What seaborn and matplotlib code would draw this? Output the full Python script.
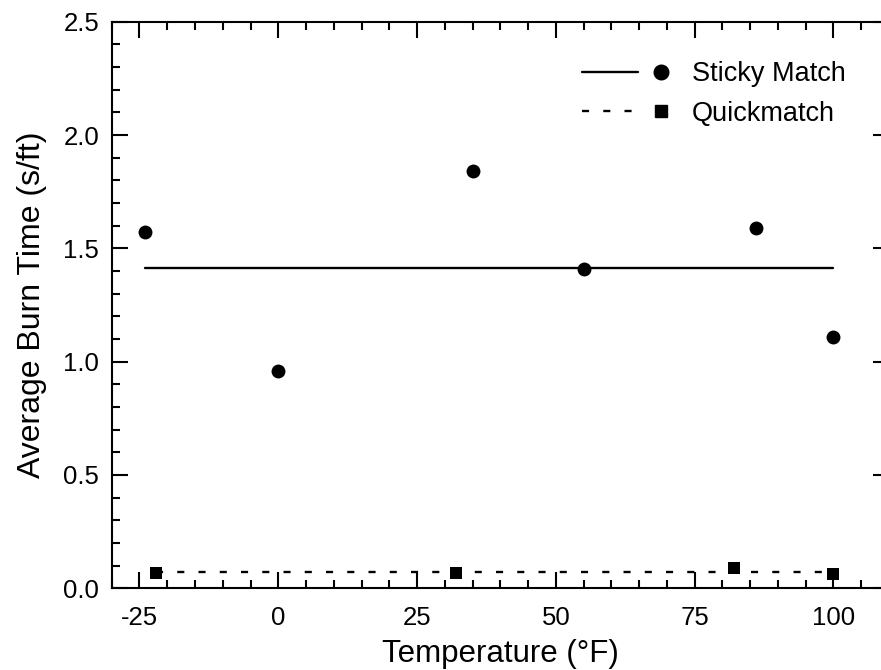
import numpy as np
import pandas as pd
import matplotlib
matplotlib.use("Agg")
import matplotlib.pyplot as plt
from matplotlib.lines import Line2D
from matplotlib.legend_handler import HandlerTuple
from matplotlib.ticker import MultipleLocator
import seaborn as sns

# data
sticky_temp = [-24, 0, 35, 55, 86, 100]
sticky_burn = [1.57, 0.96, 1.84, 1.41, 1.59, 1.11]
quick_temp = [-22, 32, 82, 100]
quick_burn = [0.066, 0.066, 0.088, 0.064]
series_names = ["Sticky Match", "Quickmatch"]

sns.set_style("ticks")
plt.rcParams["font.family"] = ["Liberation Sans", "DejaVu Sans"]
plt.rcParams["axes.unicode_minus"] = False
plt.rcParams["text.color"] = "black"
plt.rcParams["axes.labelcolor"] = "black"
plt.rcParams["xtick.color"] = "black"
plt.rcParams["ytick.color"] = "black"

sticky = pd.DataFrame({"temp": sticky_temp, "burn": sticky_burn})
quick = pd.DataFrame({"temp": quick_temp, "burn": quick_burn})

# average lines spanning the tested temperatures
sticky_avg = pd.DataFrame({"temp": [min(sticky_temp), max(sticky_temp)],
                           "burn": [np.mean(sticky_burn)] * 2})
quick_avg = pd.DataFrame({"temp": [min(quick_temp), max(quick_temp)],
                          "burn": [np.mean(quick_burn)] * 2})

fig = plt.figure(figsize=(8.81, 6.70), dpi=100)
ax = fig.add_axes([111.7 / 881, 81.7 / 670, 777.3 / 881, 566.6 / 670])

dash = (0, (3, 6))
sns.lineplot(data=sticky_avg, x="temp", y="burn", color="black", lw=1.7, ax=ax)
sns.lineplot(data=quick_avg, x="temp", y="burn", color="black", lw=1.7,
             linestyle=dash, ax=ax)
sns.scatterplot(data=sticky, x="temp", y="burn", marker="o", s=100,
                color="black", linewidth=0, ax=ax, zorder=3)
sns.scatterplot(data=quick, x="temp", y="burn", marker="s", s=70,
                color="black", linewidth=0, ax=ax, zorder=3)

ax.set_xlim(-30, 110)
ax.set_ylim(0, 2.5)
ax.xaxis.set_major_locator(MultipleLocator(25))
ax.xaxis.set_minor_locator(MultipleLocator(5))
ax.yaxis.set_major_locator(MultipleLocator(0.5))
ax.yaxis.set_minor_locator(MultipleLocator(0.1))
ax.set_xticks([-25, 0, 25, 50, 75, 100])
ax.set_yticks(np.arange(0, 2.51, 0.5))
ax.set_yticklabels([f"{v:.1f}" for v in np.arange(0, 2.51, 0.5)])

for s in ax.spines.values():
    s.set_visible(True)
    s.set_linewidth(1.5)
    s.set_color("black")
ax.tick_params(which="both", direction="in", top=True, right=True,
               width=1.5, color="black", labelsize=18.5, labelcolor="black")
ax.tick_params(which="major", length=11.5)
ax.tick_params(which="minor", length=6)
ax.tick_params(axis="x", which="major", pad=12.5)
ax.tick_params(axis="y", which="major", pad=9)

ax.set_xlabel("Temperature (°F)", fontsize=22.5, labelpad=6.5)
ax.set_ylabel("Average Burn Time (s/ft)", fontsize=23, labelpad=12)

h_sticky = (Line2D([], [], color="black", lw=1.7),
            Line2D([], [], color="black", ls="none", marker="o", markersize=10.5))
h_quick = (Line2D([], [], color="black", lw=1.7, linestyle=dash),
           Line2D([], [], color="black", ls="none", marker="s", markersize=8.6))
ax.legend([h_sticky, h_quick], series_names,
          handler_map={tuple: HandlerTuple(ndivide=None, pad=-0.17)},
          loc="upper left", bbox_to_anchor=(581.7 / 881, 1 - 61 / 670),
          bbox_transform=fig.transFigure, frameon=False, fontsize=19.5,
          handlelength=3.96, handletextpad=0.1, labelspacing=0.5,
          borderpad=0, borderaxespad=0)

fig.savefig("out.png", dpi=100)
